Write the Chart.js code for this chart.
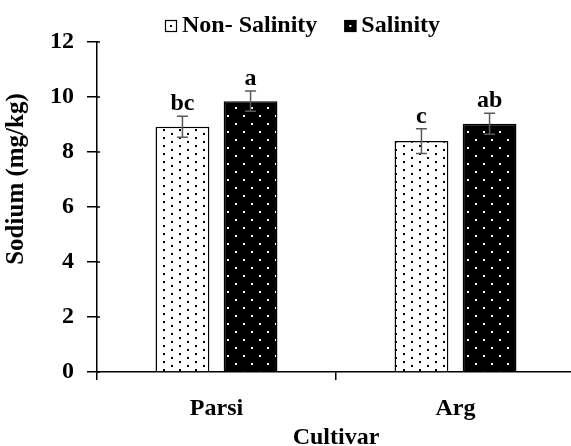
<!DOCTYPE html>
<html>
<head>
<meta charset="utf-8">
<script src="https://cdn.jsdelivr.net/npm/chart.js@4"></script>
<style>
html, body { margin: 0; padding: 0; overflow: hidden; background: #fff; }
#wrap { width: 578px; height: 446px; }
</style>
</head>
<body>
<div id="wrap"><canvas id="chart"></canvas></div>
<script>
const cultivars = ["Parsi", "Arg"];
const seriesNames = ["Non- Salinity", "Salinity"];
const nonSalinity = [8.92, 8.40];
const salinity = [9.85, 9.03];
const nonSalinityErr = [0.38, 0.45];
const salinityErr = [0.37, 0.38];
const nonSalinityLetters = ["bc", "c"];
const salinityLetters = ["a", "ab"];

const FONT = "'Liberation Serif', 'Times New Roman', serif";

// dotted fills like the original
const makePattern = (bg, dot, w, h, dots, size) => {
    const c = document.createElement("canvas");
    c.width = w;
    c.height = h;
    const g = c.getContext("2d");
    g.fillStyle = bg;
    g.fillRect(0, 0, w, h);
    g.fillStyle = dot;
    dots.forEach(([x, y]) => g.fillRect(x, y, size, size));
    return g.createPattern(c, "repeat");
}

const whiteDots = makePattern("#fff", "#000", 16, 8, [[3, 1], [11, 5]], 2);
const blackDots = makePattern("#000", "#fff", 16, 16, [[3, 3], [11, 11]], 2);

const errorBars = {
    id: "errorBars",
    afterDatasetsDraw(chart) {
        const ctx = chart.ctx;
        const y = chart.scales.y;
        chart.data.datasets.forEach((ds, di) => {
            const meta = chart.getDatasetMeta(di);
            meta.data.forEach((bar, i) => {
                const v = ds.data[i];
                const e = ds.errors[i];
                const top = y.getPixelForValue(v + e);
                const bot = y.getPixelForValue(v - e);
                ctx.save();
                ctx.strokeStyle = "#595959";
                ctx.lineWidth = 1.5;
                ctx.beginPath();
                ctx.moveTo(bar.x, top);
                ctx.lineTo(bar.x, bot);
                ctx.moveTo(bar.x - 5.5, top);
                ctx.lineTo(bar.x + 5.5, top);
                ctx.moveTo(bar.x - 5.5, bot);
                ctx.lineTo(bar.x + 5.5, bot);
                ctx.stroke();
                ctx.fillStyle = "#000";
                ctx.font = "bold 24px " + FONT;
                ctx.textAlign = "center";
                ctx.textBaseline = "alphabetic";
                ctx.fillText(ds.letters[i], bar.x, top - 6);
                ctx.restore();
            });
        });
    }
};

const extras = {
    id: "extras",
    afterDraw(chart) {
        const ctx = chart.ctx;
        ctx.save();
        // y axis title
        ctx.fillStyle = "#000";
        ctx.font = "bold 25px " + FONT;
        ctx.translate(17, 179);
        ctx.rotate(-Math.PI / 2);
        ctx.textAlign = "center";
        ctx.textBaseline = "middle";
        ctx.fillText("Sodium (mg/kg)", 0, 0);
        ctx.restore();

        // y axis ticks cross the axis line in the original
        const y = chart.scales.y;
        const ax = chart.chartArea.left;
        ctx.save();
        ctx.strokeStyle = "#000";
        ctx.lineWidth = 1.5;
        ctx.beginPath();
        y.ticks.forEach(t => {
            const py = y.getPixelForValue(t.value);
            ctx.moveTo(ax, py);
            ctx.lineTo(ax + 3, py);
        });
        ctx.stroke();
        ctx.restore();

        // legend
        ctx.save();
        ctx.font = "bold 24px " + FONT;
        ctx.textBaseline = "middle";
        ctx.textAlign = "left";
        let x = 165;
        const ly = 26;
        chart.data.datasets.forEach((ds, di) => {
            ctx.fillStyle = di === 0 ? "#fff" : "#000";
            ctx.fillRect(x, ly - 6, 12, 12);
            ctx.strokeStyle = "#000";
            ctx.lineWidth = 1.2;
            ctx.strokeRect(x + 0.5, ly - 5.5, 11, 11);
            ctx.fillStyle = di === 0 ? "#000" : "#fff";
            ctx.fillRect(x + 5, ly - 1, 2, 2);
            ctx.fillStyle = "#000";
            ctx.fillText(ds.label, x + 17, ly);
            x += 17 + ctx.measureText(ds.label).width + 27;
        });
        ctx.restore();
    }
};

new Chart(document.getElementById("chart"), {
    type: "bar",
    data: {
        labels: cultivars,
        datasets: [{
            label: seriesNames[0],
            data: nonSalinity,
            errors: nonSalinityErr,
            letters: nonSalinityLetters,
            backgroundColor: whiteDots,
            borderColor: "#000",
            borderWidth: 1.5,
            barPercentage: 0.79,
            categoryPercentage: 0.57
        }, {
            label: seriesNames[1],
            data: salinity,
            errors: salinityErr,
            letters: salinityLetters,
            backgroundColor: blackDots,
            borderColor: "#000",
            borderWidth: 1.5,
            barPercentage: 0.79,
            categoryPercentage: 0.57
        }]
    },
    options: {
        responsive: true,
        maintainAspectRatio: false,
        animation: false,
        layout: {
            padding: { top: 42, right: 3, bottom: 0, left: 0 }
        },
        plugins: {
            legend: { display: false },
            tooltip: { enabled: false }
        },
        scales: {
            x: {
                afterFit(scale) { scale.height = 74; },
                border: { color: "#000", width: 1.5 },
                grid: { drawOnChartArea: false, tickLength: 8, color: "#000", lineWidth: 1.5 },
                ticks: { color: "#000", padding: 14, font: { family: FONT, size: 24, weight: "bold" } },
                title: {
                    display: true,
                    text: "Cultivar",
                    color: "#000",
                    font: { family: FONT, size: 24, weight: "bold" },
                    padding: { top: 0, bottom: -6 }
                }
            },
            y: {
                min: 0,
                max: 12,
                afterFit(scale) { scale.width = 97; },
                border: { color: "#000", width: 1.5 },
                grid: { drawOnChartArea: false, tickLength: 10, color: "#000", lineWidth: 1.5 },
                ticks: { stepSize: 2, color: "#000", padding: 13, font: { family: FONT, size: 24, weight: "bold" } }
            }
        }
    },
    plugins: [errorBars, extras]
});
</script>
</body>
</html>
